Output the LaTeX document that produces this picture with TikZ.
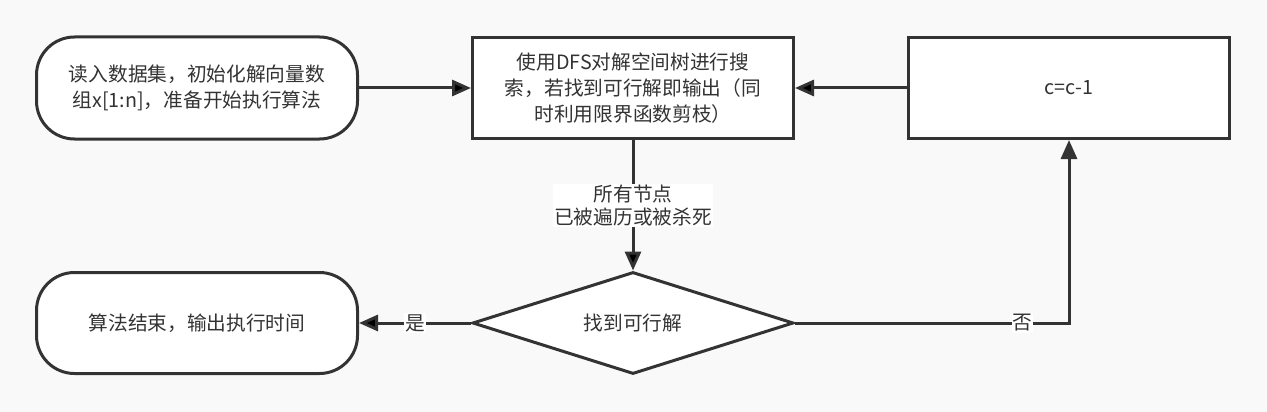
\documentclass[tikz,border=0pt]{standalone}
\usepackage{fontspec}
\newfontfamily\cjk{Noto Sans CJK SC}
\usetikzlibrary{shapes.geometric,arrows.meta}
\definecolor{ink}{RGB}{51,51,51}
\definecolor{paper}{RGB}{249,249,249}
\tikzset{
	box/.style={draw=ink, line width=3pt, fill=white, text=ink, font=\cjk\fontsize{19.7}{26}\selectfont, align=center, minimum width=321pt, minimum height=101pt, inner sep=0pt},
	terminal/.style={box, rounded corners=38pt},
	decision/.style={box, diamond, aspect=3, minimum height=102pt},
	lbl/.style={fill=white, text=ink, font=\cjk\fontsize{19.7}{23}\selectfont, align=center, inner sep=1pt},
	>={Triangle[length=19pt,width=16pt]}
}
\begin{document}
\begin{tikzpicture}[x=1pt,y=-1pt]
			\fill[paper] (0,0) rectangle (1267,412);
			\node	(start) at (197,88) [terminal, minimum height=102pt] {读入数据集，初始化解向量数\\组x[1:n]，准备开始执行算法};
			\node	(dfs) at (633,88) [box] {使用DFS对解空间树进行搜\\索，若找到可行解即输出（同\\时利用限界函数剪枝）};
			\node	(dec) at (1069,88) [box] {c=c-1};
			\node	(chk) at (633,323) [decision] {找到可行解};
			\node	(stop) at (197,323) [terminal] {算法结束，输出执行时间};
			\draw [draw=ink, line width=3pt]
			(start) edge[->] (dfs)
			(dec) edge[->] (dfs)
			(dfs) edge[->] node[lbl] {所有节点\\已被遍历或被杀死} (chk)
			(chk) edge[->] node[lbl] {是} (stop)
			;
			\draw [draw=ink, line width=3pt, ->] (chk.east) -| node[lbl, pos=0.415] {否} (dec.south);
		\end{tikzpicture}
\end{document}
